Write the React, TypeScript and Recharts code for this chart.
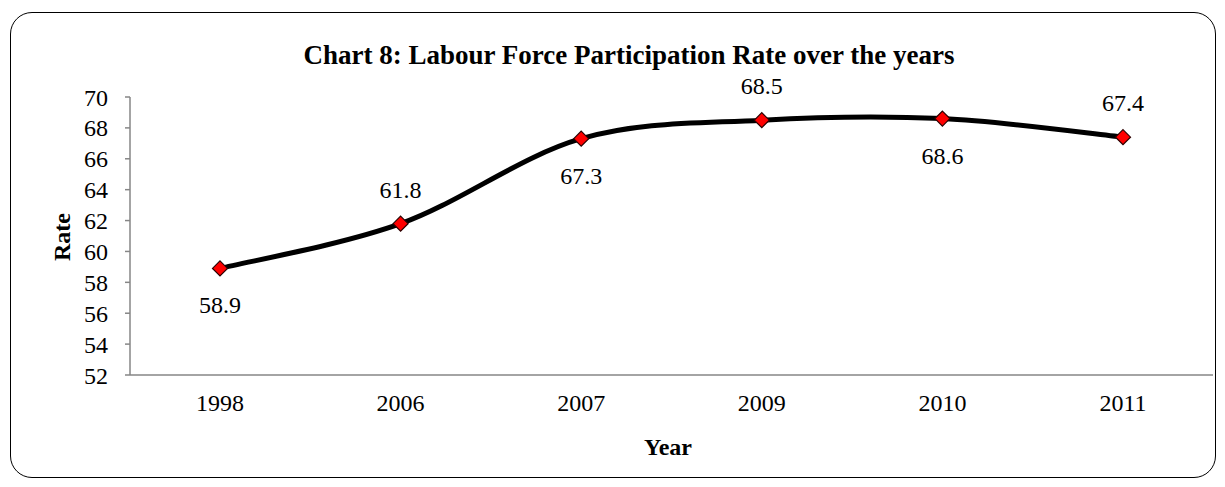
import React from 'react';
import { LineChart, Line, XAxis, YAxis, LabelList, Label } from 'recharts';

const years = ['1998', '2006', '2007', '2009', '2010', '2011'];
const rates = [58.9, 61.8, 67.3, 68.5, 68.6, 67.4];
const labelSides = ['below', 'above', 'below', 'above', 'below', 'above'];
const yTicks = [52, 54, 56, 58, 60, 62, 64, 66, 68, 70];

const data = years.map((year, i) => ({ year, rate: rates[i] }));

const FONT = '"Liberation Serif", "Times New Roman", serif';

// excel-style smoothed line (catmull-rom through every point)
function smoothCurve(context: any) {
  let pts: number[][] = [];
  return {
    areaStart() {},
    areaEnd() {},
    lineStart() {
      pts = [];
    },
    lineEnd() {
      if (!pts.length) return;
      context.moveTo(pts[0][0], pts[0][1]);
      for (let i = 0; i < pts.length - 1; i++) {
        const p0 = pts[Math.max(i - 1, 0)];
        const p1 = pts[i];
        const p2 = pts[i + 1];
        const p3 = pts[Math.min(i + 2, pts.length - 1)];
        context.bezierCurveTo(
          p1[0] + (p2[0] - p0[0]) / 6,
          p1[1] + (p2[1] - p0[1]) / 6,
          p2[0] - (p3[0] - p1[0]) / 6,
          p2[1] - (p3[1] - p1[1]) / 6,
          p2[0],
          p2[1]
        );
      }
    },
    point(x: number, y: number) {
      pts.push([+x, +y]);
    },
  };
}

const Diamond = (props: any) => {
  const { cx, cy, index } = props;
  if (cx == null || cy == null) return null;
  const r = 7.5;
  return (
    <polygon
      key={`dot-${index}`}
      points={`${cx},${cy - r} ${cx + r},${cy} ${cx},${cy + r} ${cx - r},${cy}`}
      fill="#ff0000"
      stroke="#2b0000"
      strokeWidth={1.2}
    />
  );
};

const ValueLabel = (props: any) => {
  const { x, y, value, index } = props;
  const below = labelSides[index] === 'below';
  return (
    <text
      x={x}
      y={below ? y + 37 : y - 34}
      textAnchor="middle"
      dominantBaseline="central"
      fontFamily={FONT}
      fontSize={24}
      fill="#000"
    >
      {value}
    </text>
  );
};

export default function App() {
  return (
    <div style={{ position: 'absolute', left: 0, top: 0, width: 1225, height: 487, background: '#fff' }}>
      <div
        style={{
          position: 'absolute',
          left: 10,
          top: 12,
          width: 1206,
          height: 466,
          border: '1.5px solid #000',
          borderRadius: 22,
          boxSizing: 'border-box',
        }}
      />
      <div
        style={{
          position: 'absolute',
          left: 0,
          top: 40,
          width: 1258,
          textAlign: 'center',
          fontFamily: FONT,
          fontWeight: 'bold',
          fontSize: 27,
          lineHeight: '30px',
        }}
      >
        Chart 8: Labour Force Participation Rate over the years
      </div>
      <LineChart
        width={1225}
        height={487}
        data={data}
        margin={{ top: 97, right: 12, bottom: 52, left: 10 }}
        style={{ position: 'absolute', left: 0, top: 0 }}
      >
        <XAxis
          dataKey="year"
          height={60}
          padding={{ left: 90, right: 90 }}
          stroke="#868686"
          strokeWidth={1.5}
          tickLine={false}
          tickSize={0}
          tickMargin={19}
          tick={{ fill: '#000', fontFamily: FONT, fontSize: 24 }}
        >
          <Label
            content={() => (
              <text x={668} y={447} textAnchor="middle" dominantBaseline="central" fontFamily={FONT} fontWeight="bold" fontSize={24} fill="#000">
                Year
              </text>
            )}
          />
        </XAxis>
        <YAxis
          width={120}
          domain={[52, 70]}
          ticks={yTicks}
          interval={0}
          stroke="#868686"
          strokeWidth={1.5}
          tickSize={5}
          tickMargin={17}
          tick={{ fill: '#000', fontFamily: FONT, fontSize: 24 }}
        >
          <Label
            content={() => (
              <text
                x={62}
                y={237}
                transform="rotate(-90 62 237)"
                textAnchor="middle"
                dominantBaseline="central"
                fontFamily={FONT}
                fontWeight="bold"
                fontSize={24}
                fill="#000"
              >
                Rate
              </text>
            )}
          />
        </YAxis>
        <Line
          dataKey="rate"
          type={smoothCurve as any}
          stroke="#000"
          strokeWidth={5}
          dot={<Diamond />}
          activeDot={false}
          isAnimationActive={false}
        >
          <LabelList dataKey="rate" content={<ValueLabel />} />
        </Line>
      </LineChart>
    </div>
  );
}
